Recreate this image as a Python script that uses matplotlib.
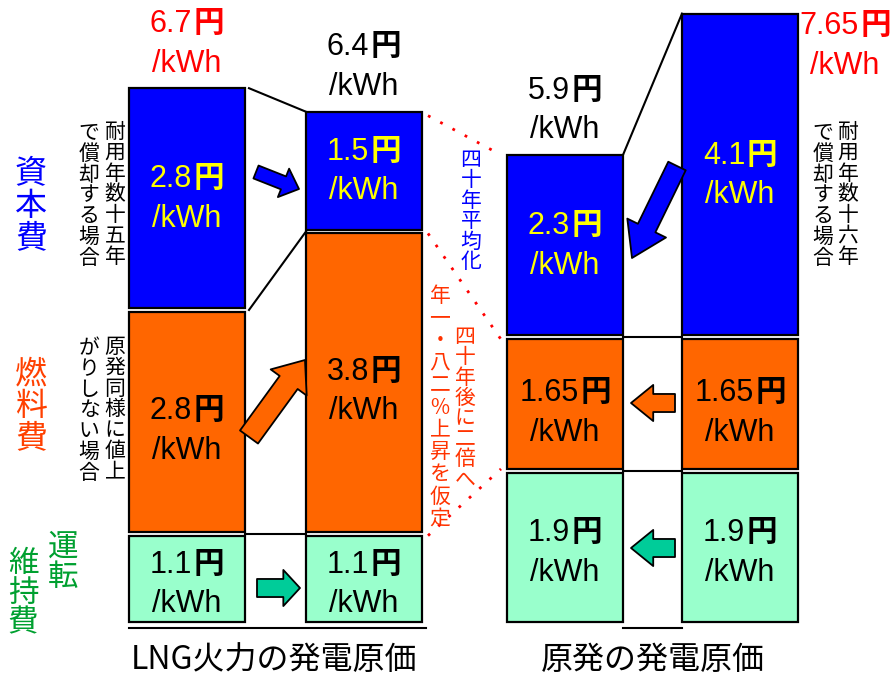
import numpy as np
import matplotlib
matplotlib.use('Agg')
import matplotlib.pyplot as plt
from matplotlib.offsetbox import TextArea, HPacker, VPacker, AnnotationBbox

# values (yen / kWh)
bar_keys = ['LNG_15y', 'LNG_40y', 'NUC_40y', 'NUC_16y']
upkeep = [1.1, 1.1, 1.9, 1.9]       # 運転維持費
fuel = [2.8, 3.8, 1.65, 1.65]       # 燃料費
capital = [2.8, 1.5, 2.3, 4.1]      # 資本費
total_labels = ['6.7', '6.4', '5.9', '7.65']
total_colors = ['#FF0000', 'black', 'black', '#FF0000']
group_labels = ['LNG火力の発電原価', '原発の発電原価']

BLUE = '#0000FF'
ORANGE = '#FF6600'
MINT = '#99FFCC'
ARROW_GREEN = '#00CC99'
RED_TXT = '#FF3300'
GREEN_TXT = '#00A030'
CJK = ['Noto Sans CJK JP', 'DejaVu Sans']
NUM = ['Liberation Sans Narrow', 'Liberation Sans', 'Noto Sans CJK JP']

W, H = 893, 679
BASE = 622      # pixel row of the baseline
SCALE = 78.5    # pixels per yen
GAP = 0.05

fig = plt.figure(figsize=(W / 100, H / 100), dpi=100)
ax = fig.add_axes([0, 0, 1, 1])
ax.set_xlim(0, W)
ax.set_ylim(-(H - BASE) / SCALE, BASE / SCALE)
ax.axis('off')


def py(p):
    # pixel row -> data y
    return (BASE - p) / SCALE


def ftext(x, y, s, **kw):
    fig.text(x / W, 1 - y / H, s, **kw)


def vtext(x, y0, s, size, color, step):
    for i, ch in enumerate(s):
        ftext(x, y0 + i * step, ch, ha='center', va='center', size=size,
              color=color, family=CJK)


def value_label(x, y, num, color, size=22):
    t1 = TextArea(num, textprops=dict(color=color, size=size, family=NUM))
    t2 = TextArea('円', textprops=dict(color=color, size=size, family=CJK, weight='bold'))
    row = HPacker(children=[t1, t2], align='baseline', pad=0, sep=1)
    t3 = TextArea('/kWh', textprops=dict(color=color, size=size, family=NUM))
    box = VPacker(children=[row, t3], align='center', pad=0, sep=7)
    ab = AnnotationBbox(box, (x, y), xycoords='data', frameon=False,
                        box_alignment=(0.5, 0.5), pad=0)
    ax.add_artist(ab)


def block_arrow(p0, p1, color, tail, head_w, head_l):
    ax.annotate('', xy=(p1[0], py(p1[1])), xytext=(p0[0], py(p0[1])),
                arrowprops=dict(arrowstyle=f'simple,head_length={head_l},head_width={head_w},tail_width={tail}',
                                fc=color, ec='black', lw=1.3, shrinkA=0, shrinkB=0,
                                mutation_scale=10))


xs = np.array([187, 364, 565, 740])
width = 116
left = xs - width / 2
right = xs + width / 2

b1 = np.array(upkeep) + GAP
b2 = b1 + np.array(fuel) + GAP
tops = b2 + np.array(capital)

ax.bar(xs, upkeep, width, bottom=0, color=MINT, edgecolor='black', lw=1.6)
ax.bar(xs, fuel, width, bottom=b1, color=ORANGE, edgecolor='black', lw=1.6)
ax.bar(xs, capital, width, bottom=b2, color=BLUE, edgecolor='black', lw=1.6)

for i in range(4):
    value_label(xs[i], upkeep[i] / 2 - 0.06, f'{upkeep[i]:g}', 'black')
    value_label(xs[i], b1[i] + fuel[i] / 2 - 0.1, f'{fuel[i]:g}', 'black')
    value_label(xs[i], b2[i] + capital[i] / 2, f'{capital[i]:g}', '#FFFF00')

for i in range(3):
    value_label(xs[i], tops[i] + 0.58, total_labels[i], total_colors[i])
value_label(845, py(45), total_labels[3], total_colors[3])

# connector lines between bars
lw = 1.5
ax.plot([right[0], left[1]], [b1[0] - GAP / 2] * 2, color='black', lw=lw)
ax.plot([right[2], left[3]], [b1[2] - GAP / 2] * 2, color='black', lw=lw)
ax.plot([right[2], left[3]], [b2[2] - GAP / 2] * 2, color='black', lw=lw)
ax.plot([left[0], right[1] + 4], [-0.08] * 2, color='black', lw=lw)
ax.plot([right[2], left[3]], [-0.08] * 2, color='black', lw=lw)
ax.plot([right[0] + 4, left[1]], [tops[0], tops[1]], color='black', lw=lw)
ax.plot([right[0] + 4, left[1]], [b2[0] - GAP / 2, b2[1] - GAP / 2], color='black', lw=lw)
ax.plot([right[2], left[3]], [tops[2], tops[3]], color='black', lw=lw)

# red dotted guides
dots = dict(color='#FF0000', lw=2, ls=(0, (1, 4)))
ax.plot([right[1] + 6, left[2] - 6], [tops[1] - 0.05, tops[2]], **dots)
ax.plot([right[1] + 6, left[2] - 6], [b2[1] - 0.05, b2[2] - 0.05], **dots)
ax.plot([right[1] + 6, left[2] - 6], [b1[1] - GAP, b1[2]], **dots)

# arrows
block_arrow((256, 172), (299, 189), BLUE, 1.0, 2.2, 1.2)
block_arrow((249, 437), (305, 360), ORANGE, 1.6, 3.2, 2.0)
block_arrow((257, 588), (300, 588), ARROW_GREEN, 1.3, 2.6, 1.2)
block_arrow((677, 166), (632, 258), BLUE, 1.4, 3.1, 2.4)
block_arrow((675, 403), (631, 403), ORANGE, 1.3, 2.6, 1.6)
block_arrow((675, 548), (631, 548), ARROW_GREEN, 1.3, 2.6, 1.6)

# category labels on the left
vtext(31, 174, '資本費', 23, BLUE, 32)
vtext(31, 374, '燃料費', 23, '#FF4000', 32)
vtext(63, 547, '運転', 22, GREEN_TXT, 31)
vtext(23, 563, '維持費', 22, GREEN_TXT, 30)

# notes
vtext(115, 132, '耐用年数十五年', 15, 'black', 20.8)
vtext(89, 133, 'で償却する場合', 15, 'black', 20.8)
vtext(115, 347, '原発同様に値上', 15, 'black', 20.8)
vtext(89, 348, 'がりしない場合', 15, 'black', 20.8)
vtext(848, 132, '耐用年数十六年', 15, 'black', 20.8)
vtext(823, 133, 'で償却する場合', 15, 'black', 20.8)
vtext(471, 160, '四十年平均化', 15, BLUE, 20.5)
vtext(465, 337, '四十年後に二倍へ', 15, RED_TXT, 20.4)
vtext(440, 296, '年一・八二%上昇を仮定', 15, RED_TXT, 22.3)

# group labels
ftext(274, 660, group_labels[0], ha='center', va='center', size=23, family=CJK)
ftext(653, 660, group_labels[1], ha='center', va='center', size=23, family=CJK)

fig.savefig('out.png', dpi=100)
